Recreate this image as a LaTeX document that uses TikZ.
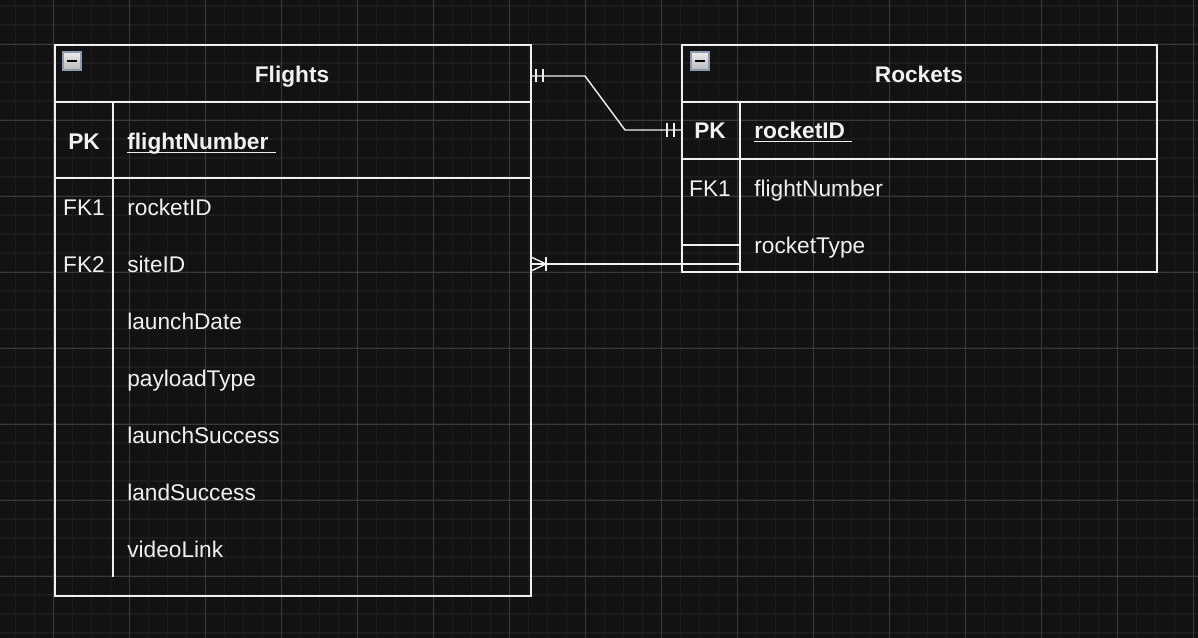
\documentclass[tikz,border=0pt]{standalone}
\usepackage{fontspec}
\setmainfont{Liberation Sans}
\usepackage{xcolor}
\usetikzlibrary{calc}
\definecolor{bgdark}{HTML}{121212}
\definecolor{gridminor}{HTML}{1C1C1C}
\definecolor{gridmajor}{HTML}{3A3A3A}
\definecolor{inkwhite}{HTML}{F0F0F0}
\definecolor{iconedge}{HTML}{8C9AAE}

\begin{document}
\begin{tikzpicture}[x=0.02cm,y=-0.02cm,every text node part/.style={align=center}]
\tikzstyle{every node}+=[inner sep=0pt,text=inkwhite,font=\fontsize{12.9}{15}\selectfont]
\tikzstyle{tbl}=[draw=inkwhite,line width=0.9pt]
\tikzstyle{link}=[draw=inkwhite,line width=0.8pt]
\tikzstyle{title}=[anchor=base,font=\fontsize{12.9}{15}\selectfont\bfseries]
\tikzstyle{keycell}=[anchor=base]
\tikzstyle{keybold}=[anchor=base,font=\fontsize{12.9}{15}\selectfont\bfseries]
\tikzstyle{field}=[anchor=base west]
\tikzstyle{fieldkey}=[anchor=base west,font=\fontsize{12.9}{15}\selectfont\bfseries]
\tikzstyle{uline}=[draw=inkwhite,line width=1pt]
\tikzstyle{minusicon}=[draw=iconedge,line width=0.8pt,top color=gray!15,bottom color=gray!55]
% background and grid
\fill [bgdark] (0,0) rectangle (1198,638);
\useasboundingbox (0,0) rectangle (1198,638);
\foreach \gx in {15.3,34.3,...,1198} \draw [gridminor,line width=0.6pt] (\gx,0) -- (\gx,638);
\foreach \gy in {6,25,...,638} \draw [gridminor,line width=0.6pt] (0,\gy) -- (1198,\gy);
\foreach \gx in {53.3,129.3,...,1198} \draw [gridmajor,line width=0.5pt] (\gx,0) -- (\gx,638);
\foreach \gy in {44,120,...,638} \draw [gridmajor,line width=0.5pt] (0,\gy) -- (1198,\gy);
% Flights table
\draw [tbl] (55,45) rectangle (531,596);
\draw [tbl] (55,102) -- (531,102);
\draw [tbl] (55,178) -- (531,178);
\draw [tbl] (113,102) -- (113,577);
\draw [minusicon] (63,52) rectangle (81,70);
\draw [black,line width=1.1pt] (67,61) -- (77,61);
\node [title] (flightsT) at (292,83) {Flights};
\node [keybold] (flightsPK) at (84,150) {PK};
\node [fieldkey] (flightNo) at (127,150) {flightNumber};
\draw [uline] ($(flightNo.base west)+(0,2.5)$) -- ($(flightNo.base east)+(7,2.5)$);
\node [keycell] (flightsFK1) at (84,216) {FK1};
\node [field] (rocketRef) at (127,216) {rocketID};
\node [keycell] (flightsFK2) at (84,273) {FK2};
\node [field] (siteRef) at (127,273) {siteID};
\node [field] (launchDate) at (127,330) {launchDate};
\node [field] (payloadType) at (127,387) {payloadType};
\node [field] (launchSuccess) at (127,444) {launchSuccess};
\node [field] (landSuccess) at (127,501) {landSuccess};
\node [field] (videoLink) at (127,558) {videoLink};
% Rockets table
\draw [tbl] (682,45) rectangle (1157,272);
\draw [tbl] (682,102) -- (1157,102);
\draw [tbl] (682,159) -- (1157,159);
\draw [tbl] (740,102) -- (740,272);
\draw [tbl] (682,245) -- (740,245);
\draw [minusicon] (691,52) rectangle (709,70);
\draw [black,line width=1.1pt] (695,61) -- (705,61);
\node [title] (rocketsT) at (919,83) {Rockets};
\node [keybold] (rocketsPK) at (710,139) {PK};
\node [fieldkey] (rocketId) at (754,139) {rocketID};
\draw [uline] ($(rocketId.base west)+(0,2.5)$) -- ($(rocketId.base east)+(7,2.5)$);
\node [keycell] (rocketsFK1) at (710,197) {FK1};
\node [field] (flightRef) at (754,197) {flightNumber};
\node [field] (rocketType) at (754,254) {rocketType};
% connectors
\coordinate (flightsR1) at (531,76);
\coordinate (bendA) at (585,76);
\coordinate (bendB) at (625,130);
\coordinate (rocketsL1) at (682,130);
\draw [link] (flightsR1) -- (bendA) -- (bendB) -- (rocketsL1);
\draw [link] ($(flightsR1)+(5,-6.5)$) -- ++(0,13);
\draw [link] ($(flightsR1)+(12,-6.5)$) -- ++(0,13);
\draw [link] ($(rocketsL1)+(-15,-7)$) -- ++(0,14);
\draw [link] ($(rocketsL1)+(-8,-7)$) -- ++(0,14);
\coordinate (flightsR2) at (531,264);
\coordinate (rocketsL2) at (740,264);
\draw [link] (flightsR2) -- (rocketsL2);
\draw [link] ($(flightsR2)+(0,-7)$) -- ($(flightsR2)+(15,0)$) -- ($(flightsR2)+(0,7)$);
\draw [link] ($(flightsR2)+(15,-7)$) -- ++(0,14);
\end{tikzpicture}
\end{document}
